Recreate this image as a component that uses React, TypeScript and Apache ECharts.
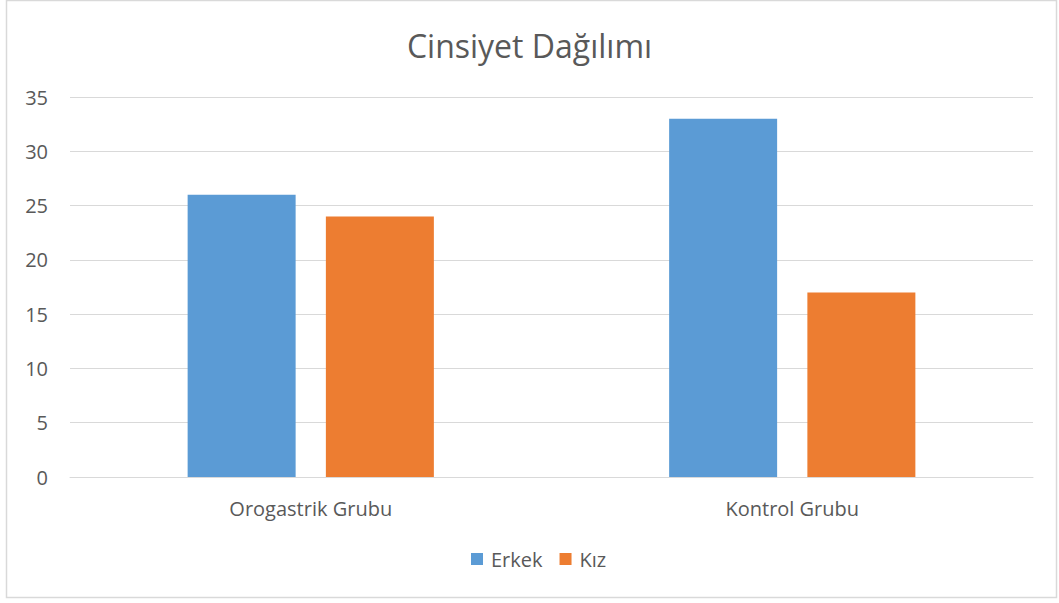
import React, { useEffect, useRef } from "react";
import * as echarts from "echarts";

const categories = ["Orogastrik Grubu", "Kontrol Grubu"];
const erkek = [26, 33];
const kiz = [24, 17];
const seriesNames = ["Erkek", "Kız"];
const titleText = "Cinsiyet Dağılımı";

export default function App() {
  const ref = useRef<HTMLDivElement>(null);
  useEffect(() => {
    const chart = echarts.init(ref.current!, null, { renderer: "svg" });
    const font = "'Open Sans', 'Noto Sans', sans-serif";
    chart.setOption({
      animation: false,
      backgroundColor: "#ffffff",
      title: {
        text: titleText,
        left: "center",
        top: 24,
        textStyle: { fontFamily: font, fontSize: 32, fontWeight: "normal", color: "#595959" },
      },
      legend: {
        data: seriesNames,
        bottom: 29,
        left: 466,
        itemWidth: 12,
        itemHeight: 12,
        itemGap: 17,
        icon: "rect",
        textStyle: { fontFamily: font, fontSize: 20, color: "#595959", padding: [0, 0, 0, 3] },
      },
      grid: { left: 70, right: 26, top: 97, bottom: 126, containLabel: false },
      xAxis: {
        type: "category",
        data: categories,
        axisLine: { lineStyle: { color: "#d9d9d9", width: 1 } },
        axisTick: { show: false },
        axisLabel: { fontFamily: font, fontSize: 20, color: "#595959", margin: 21 },
      },
      yAxis: {
        type: "value",
        min: 0,
        max: 35,
        interval: 5,
        axisLine: { show: false },
        axisTick: { show: false },
        splitLine: { lineStyle: { color: "#d9d9d9", width: 1 } },
        axisLabel: { fontFamily: font, fontSize: 20, color: "#595959", margin: 22 },
      },
      series: [
        {
          name: seriesNames[0],
          type: "bar",
          data: erkek,
          barWidth: 108,
          barGap: "28%",
          itemStyle: { color: "#5b9bd5" },
        },
        {
          name: seriesNames[1],
          type: "bar",
          data: kiz,
          barWidth: 108,
          itemStyle: { color: "#ed7d31" },
        },
      ],
      graphic: [
        {
          type: "rect",
          shape: { x: 6.5, y: 0.5, width: 1050, height: 597 },
          style: { fill: "none", stroke: "#d9d9d9", lineWidth: 1.5 },
          silent: true,
        },
      ],
    });
    return () => chart.dispose();
  }, []);
  return (
    <div
      ref={ref}
      style={{ position: "absolute", left: 0, top: 0, width: 1059, height: 603 }}
    />
  );
}
